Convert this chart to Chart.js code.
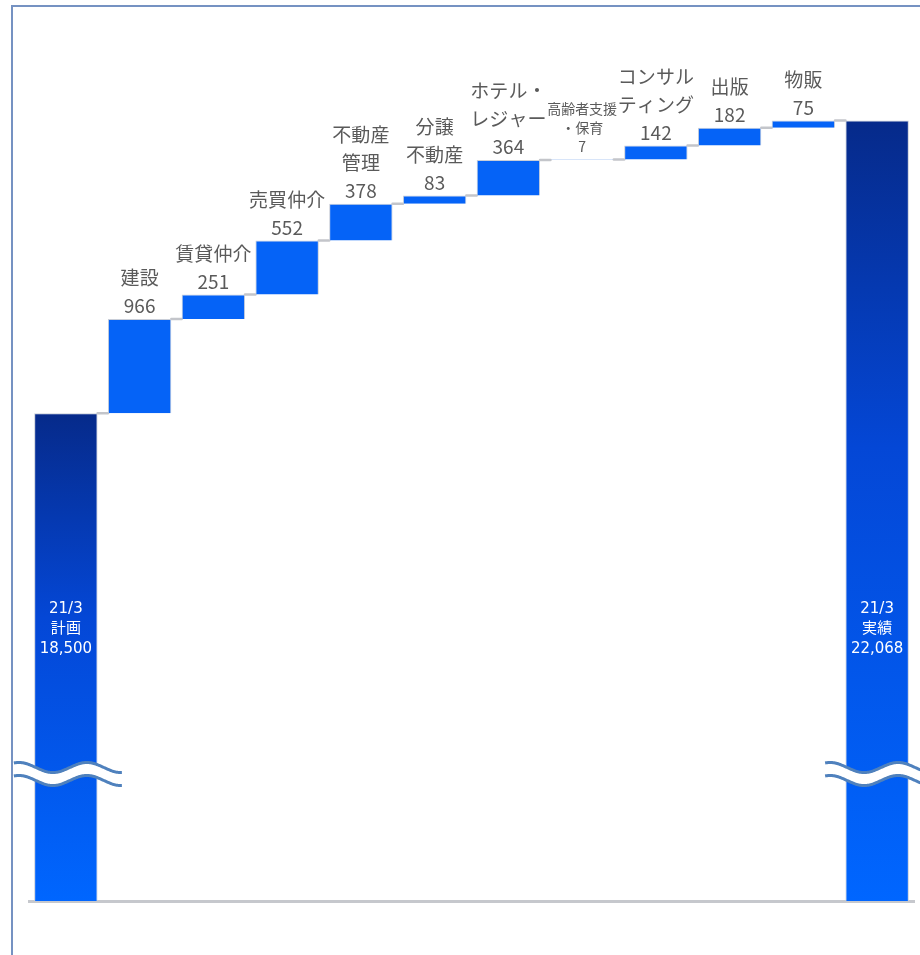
<!DOCTYPE html>
<html lang="ja">
<head>
<meta charset="utf-8">
<title>売上高 増減要因</title>
<script src="https://cdn.jsdelivr.net/npm/chart.js@4.4.1/dist/chart.umd.min.js"></script>
<style>
  html, body { margin: 0; padding: 0; background: #fff; }
  #wrap { position: relative; width: 920px; height: 955px; overflow: hidden; }
  #frame {
    position: absolute; left: 11px; top: 5px; width: 1000px; height: 1000px;
    border-left: 2px solid #7592c2; border-top: 2px solid #7592c2;
  }
  #chart { position: absolute; left: 0; top: 0; }
</style>
</head>
<body>
<div id="wrap">
  <div id="frame"></div>
  <canvas id="chart" width="920" height="955"></canvas>
</div>
<script>
// 21/3 plan -> actual, broken down by segment
const categories = ['21/3計画', '建設', '賃貸仲介', '売買仲介', '不動産管理', '分譲不動産',
  'ホテル・レジャー', '高齢者支援・保育', 'コンサルティング', '出版', '物販', '21/3実績'];
const stepNames = ['建設', '賃貸仲介', '売買仲介', '不動産\n管理', '分譲\n不動産',
  'ホテル・\nレジャー', '高齢者支援\n・保育', 'コンサル\nティング', '出版', '物販'];
const stepValues = [966, 251, 552, 378, 83, 364, 7, 142, 182, 75];
const totalNames = ['21/3\n計画', '21/3\n実績'];
const totalValues = [18500, 22068];

// segments whose label is set in a smaller font
const compactLabels = ['高齢者支援\n・保育'];

const last = categories.length - 1;

// floating bars for each step, stacked from the plan level
let running = 0;
const stepData = [null];
stepValues.forEach(v => { stepData.push([running, running + v]); running += v; });
stepData.push(null);
const stepSum = running;

const totalData = categories.map((c, i) => i === 0 ? totalValues[0] : (i === last ? totalValues[1] : null));

// step axis range (below 0 is the cut-off part of the total bars)
const stepMin = -5000, stepMax = 3620;
// totals sit on their own broken axis: plan lines up with step 0, actual with the step sum
const ratio = (totalValues[1] - totalValues[0]) / stepSum;
const totalMin = totalValues[0] + stepMin * ratio;
const totalMax = totalValues[0] + stepMax * ratio;

const fontFamily = '"Noto Sans CJK JP", "Noto Sans", sans-serif';
const totalFont = '"DejaVu Sans", "Noto Sans CJK JP", sans-serif';

function totalGradient(context) {
  const chart = context.chart;
  const area = chart.chartArea;
  if (!area || context.raw == null) return '#0550e0';
  const top = chart.scales.yTotal.getPixelForValue(context.raw);
  const g = chart.ctx.createLinearGradient(0, top, 0, area.bottom);
  g.addColorStop(0, '#062a8a');
  g.addColorStop(0.42, '#0447d6');
  g.addColorStop(1, '#0066ff');
  return g;
}

function drawBreak(ctx, cx, yc) {
  const x0 = cx - 52, x1 = cx + 56;
  const period = 68, amp = 5, gap = 13;
  const wave = (x, off) => yc + off - amp * Math.cos(2 * Math.PI * (x - (cx - 47)) / period);
  ctx.save();
  ctx.beginPath();
  for (let x = x0; x <= x1; x++) ctx.lineTo(x, wave(x, -gap / 2));
  for (let x = x1; x >= x0; x--) ctx.lineTo(x, wave(x, gap / 2));
  ctx.closePath();
  ctx.fillStyle = '#ffffff';
  ctx.fill();
  ctx.strokeStyle = '#4f81bd';
  ctx.lineWidth = 3;
  [-gap / 2, gap / 2].forEach(off => {
    ctx.beginPath();
    for (let x = x0; x <= x1; x++) ctx.lineTo(x, wave(x, off));
    ctx.stroke();
  });
  ctx.restore();
}

const waterfallDecor = {
  id: 'waterfallDecor',
  beforeDatasetsDraw(chart) {
    const ctx = chart.ctx;
    const totals = chart.getDatasetMeta(0).data;
    const steps = chart.getDatasetMeta(1).data;
    const bars = categories.map((c, i) => (i === 0 || i === last) ? totals[i] : steps[i]);
    // connector lines at each running level
    ctx.save();
    ctx.strokeStyle = '#c3c5ca';
    ctx.lineWidth = 2.5;
    ctx.lineCap = 'round';
    for (let i = 0; i < bars.length - 1; i++) {
      const a = bars[i], b = bars[i + 1];
      ctx.beginPath();
      ctx.moveTo(a.x + a.width / 2, a.y);
      ctx.lineTo(b.x - b.width / 2, a.y);
      ctx.stroke();
    }
    ctx.restore();
  },
  afterDatasetsDraw(chart) {
    const ctx = chart.ctx;
    const area = chart.chartArea;
    const totals = chart.getDatasetMeta(0).data;
    const steps = chart.getDatasetMeta(1).data;

    ctx.save();
    ctx.textAlign = 'center';
    ctx.textBaseline = 'middle';

    // segment names and values above each step
    stepNames.forEach((name, k) => {
      const bar = steps[k + 1];
      const small = compactLabels.includes(name);
      const size = small ? 14 : 19;
      const lh = small ? 19 : 28;
      const lines = name.split('\n').concat(String(stepValues[k]));
      ctx.font = size + 'px ' + fontFamily;
      ctx.fillStyle = '#5a5a5a';
      lines.forEach((t, j) => {
        ctx.fillText(t, bar.x, bar.y - 13 - (lines.length - 1 - j) * lh);
      });
    });

    // white labels inside the two total bars
    [0, last].forEach((idx, k) => {
      const bar = totals[idx];
      const lines = totalNames[k].split('\n').concat(totalValues[k].toLocaleString('en-US'));
      ctx.font = '15px ' + totalFont;
      ctx.fillStyle = '#ffffff';
      lines.forEach((t, j) => ctx.fillText(t, bar.x, area.bottom - 292 + j * 20));
      drawBreak(ctx, bar.x, area.bottom - 127);
    });
    ctx.restore();
  }
};

new Chart(document.getElementById('chart'), {
  type: 'bar',
  data: {
    labels: categories,
    datasets: [
      {
        label: '計画・実績',
        data: totalData,
        yAxisID: 'yTotal',
        backgroundColor: totalGradient,
        borderColor: '#c9ced8',
        borderWidth: 1,
        grouped: false,
        barPercentage: 0.86,
        categoryPercentage: 1.0
      },
      {
        label: '増減',
        data: stepData,
        yAxisID: 'yStep',
        backgroundColor: '#0563f7',
        borderColor: '#c9ced8',
        borderWidth: 1,
        grouped: false,
        barPercentage: 0.86,
        categoryPercentage: 1.0
      }
    ]
  },
  options: {
    responsive: false,
    animation: false,
    layout: { padding: { left: 29, right: 6, top: 60, bottom: 46 } },
    plugins: {
      legend: { display: false },
      tooltip: { enabled: false }
    },
    scales: {
      x: {
        grid: { display: false },
        ticks: { display: false },
        border: { color: '#c6c8cd', width: 3 }
      },
      yStep: {
        display: false,
        min: stepMin,
        max: stepMax
      },
      yTotal: {
        display: false,
        min: totalMin,
        max: totalMax
      }
    }
  },
  plugins: [waterfallDecor]
});
</script>
</body>
</html>
